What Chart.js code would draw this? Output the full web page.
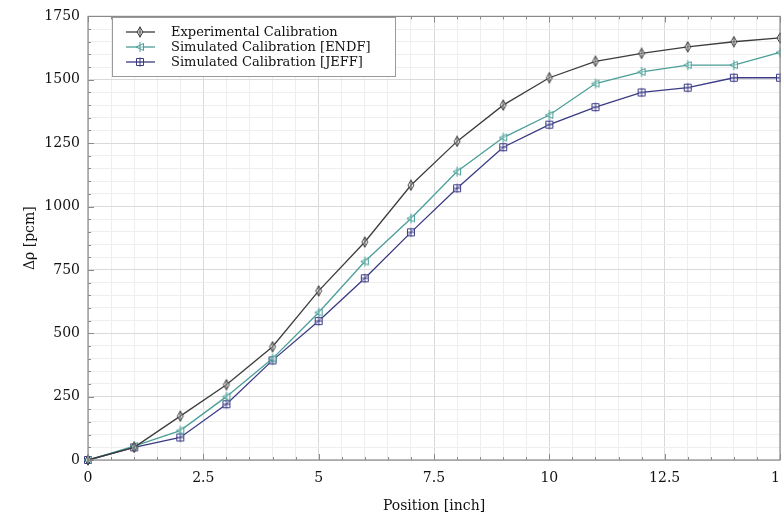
<!DOCTYPE html>
<html><head><meta charset="utf-8">
<script src="https://cdn.jsdelivr.net/npm/chart.js@4.4.0/dist/chart.umd.min.js"></script>
<style>html,body{margin:0;padding:0;overflow:hidden;background:#fff;width:781px;height:519px}</style>
</head><body>
<canvas id="c" width="800" height="519" style="width:800px;height:519px;display:block"></canvas>
<script>
const positions = [0,1,2,3,4,5,6,7,8,9,10,11,12,13,14,15];
const experimental = [0,50,173,297,447,667,860,1084,1257,1400,1508,1573,1604,1630,1650,1665];
const endf = [0,55,116,250,400,582,783,953,1138,1272,1361,1485,1531,1558,1558,1608];
const jeff = [0,50,89,220,393,548,717,898,1072,1234,1323,1392,1450,1469,1508,1508];
const seriesNames = ['Experimental Calibration','Simulated Calibration [ENDF]','Simulated Calibration [JEFF]'];
const colors = ['#3c3c3c','#4a9e98','#3a3a86'];
const FONT = "'DejaVu Serif', 'Liberation Serif', serif";

function marker(kind, color){
  const c = document.createElement('canvas'); c.width = 12; c.height = 12;
  const g = c.getContext('2d'); g.strokeStyle = color; g.lineWidth = 1; g.fillStyle='rgba(255,255,255,0.5)';
  g.beginPath();
  if(kind==='diamond'){ g.moveTo(6,1); g.lineTo(9,6); g.lineTo(6,11); g.lineTo(3,6); g.closePath(); g.fill(); g.stroke(); g.beginPath(); g.moveTo(6,0.5); g.lineTo(6,11.5); g.stroke(); }
  else if(kind==='tri'){ g.moveTo(2,6); g.lineTo(9.5,2.5); g.lineTo(9.5,9.5); g.closePath(); g.fill(); g.stroke(); g.beginPath(); g.moveTo(6,1); g.lineTo(6,11); g.stroke(); }
  else { g.rect(2.5,2.5,7,7); g.fill(); g.stroke(); g.beginPath(); g.moveTo(6,1.5); g.lineTo(6,10.5); g.moveTo(2.5,6); g.lineTo(9.5,6); g.stroke(); }
  return c;
}
const markers = [marker('diamond',colors[0]), marker('tri',colors[1]), marker('square',colors[2])];
const seriesData = [experimental, endf, jeff];

const datasets = seriesData.map((arr,i)=>({
  label: seriesNames[i],
  data: positions.map((x,j)=>({x:x,y:arr[j]})),
  borderColor: colors[i], backgroundColor: colors[i],
  borderWidth: 1.3, pointStyle: markers[i], pointRadius: 5, tension: 0, clip: false
}));

const frameTicks = {
  id:'frameTicks',
  afterDraw(chart){
    const {ctx, chartArea:a, scales:{x,y}} = chart;
    ctx.save();
    ctx.strokeStyle = '#8a8a8a'; ctx.lineWidth = 1.2;
    ctx.strokeRect(a.left, a.top, a.right-a.left, a.bottom-a.top);
    ctx.lineWidth = 1;
    for(let v=0; v<=15.001; v+=0.5){
      const px = Math.round(x.getPixelForValue(v))+0.5;
      const major = Math.abs(v/2.5-Math.round(v/2.5))<1e-6;
      const L = major?6:3;
      ctx.beginPath(); ctx.moveTo(px,a.bottom); ctx.lineTo(px,a.bottom-L); ctx.moveTo(px,a.top); ctx.lineTo(px,a.top+L); ctx.stroke();
    }
    for(let v=0; v<=1750; v+=50){
      const py = Math.round(y.getPixelForValue(v))+0.5;
      const major = v%250===0;
      const L = major?6:3;
      ctx.beginPath(); ctx.moveTo(a.left,py); ctx.lineTo(a.left+L,py); ctx.stroke();
    }
    // legend
    const lx=112, ly=17, lw=283, lh=59;
    ctx.fillStyle='#fff'; ctx.fillRect(lx,ly,lw,lh);
    ctx.strokeStyle='#9a9a9a'; ctx.lineWidth=1; ctx.strokeRect(lx+0.5,ly+0.5,lw,lh);
    ctx.font = "13px "+FONT; ctx.textBaseline='middle'; ctx.textAlign='left';
    chart.data.datasets.forEach((d,i)=>{
      const yy = 32 + i*15;
      ctx.strokeStyle = d.borderColor; ctx.lineWidth = 1.3;
      ctx.beginPath(); ctx.moveTo(126,yy); ctx.lineTo(155,yy); ctx.stroke();
      ctx.drawImage(markers[i], 140-6, yy-6);
      ctx.fillStyle='#111'; ctx.fillText(d.label, 171, yy+1);
    });
    ctx.restore();
  }
};

new Chart(document.getElementById('c'), {
  type:'line',
  data:{datasets},
  options:{
    responsive:false, animation:false, devicePixelRatio:1,
    layout:{padding:{top:6,right:20,left:0,bottom:0}},
    plugins:{legend:{display:false}, tooltip:{enabled:false}},
    scales:{
      x:{type:'linear', min:0, max:15,
        afterFit(s){ s.height = 59; },
        ticks:{stepSize:0.5, autoSkip:false, maxRotation:0, padding:10, color:'#111', font:{family:FONT,size:14},
          callback:(v)=> (Math.abs(v/2.5-Math.round(v/2.5))<1e-6 ? String(v) : '')},
        grid:{drawTicks:false, color:(c)=> (Math.abs(c.tick.value/2.5-Math.round(c.tick.value/2.5))<1e-6 ? '#d9d9d9' : '#eeeeee'), lineWidth:1},
        border:{display:false},
        title:{display:true, text:'Position [inch]', color:'#111', font:{family:FONT,size:14}, padding:{top:4,bottom:4}}
      },
      y:{type:'linear', min:0, max:1750,
        afterFit(s){ s.width = 88; },
        ticks:{stepSize:50, autoSkip:false, padding:8, color:'#111', font:{family:FONT,size:14},
          callback:(v)=> (v%250===0 ? String(v) : '')},
        grid:{drawTicks:false, color:(c)=> (c.tick.value%250===0 ? '#d9d9d9' : '#eeeeee'), lineWidth:1},
        border:{display:false},
        title:{display:true, text:'Δρ [pcm]', color:'#111', font:{family:FONT,size:14}, padding:{top:22,bottom:4}}
      }
    }
  },
  plugins:[frameTicks]
});
</script>
</body></html>
